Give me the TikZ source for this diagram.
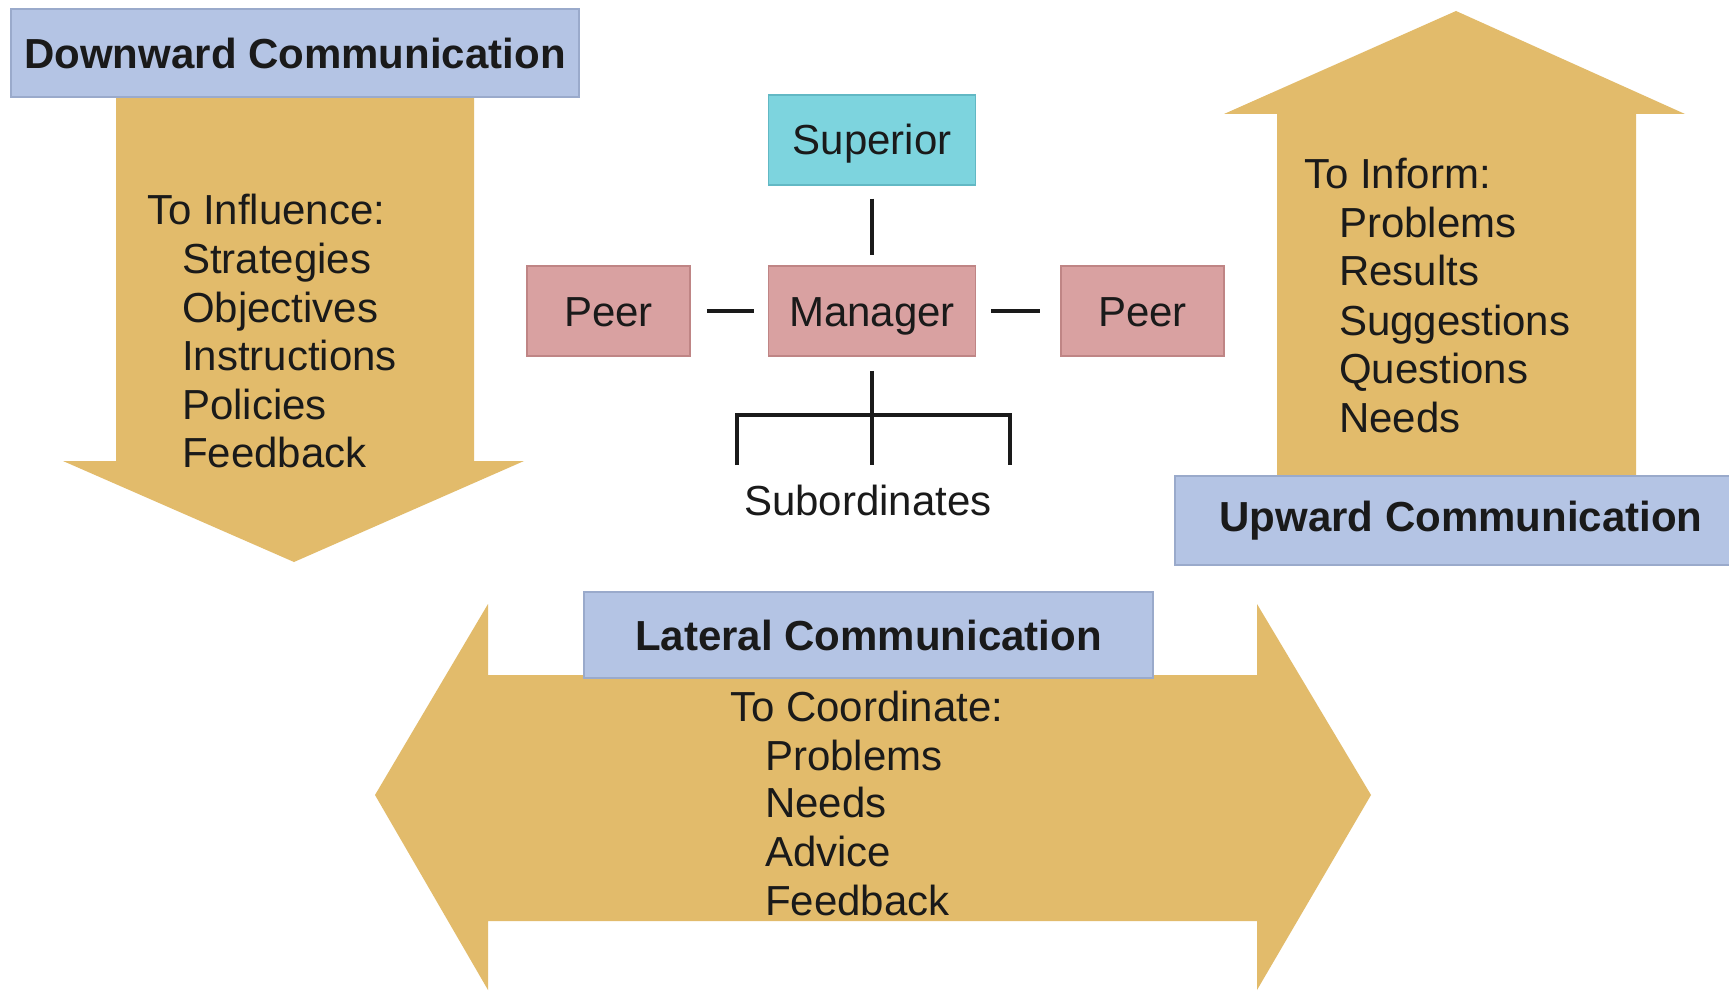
\documentclass[tikz,border=0pt]{standalone}
\usepackage{fontspec}
\setmainfont{Liberation Sans}
\definecolor{arrowgold}{HTML}{E2BB6B}
\definecolor{titleblue}{HTML}{B4C4E4}
\definecolor{titleedge}{HTML}{9AAACB}
\definecolor{peerpink}{HTML}{D9A1A1}
\definecolor{peeredge}{HTML}{BF8585}
\definecolor{supcyan}{HTML}{7DD4DE}
\definecolor{supedge}{HTML}{62B8C4}
\definecolor{ink}{HTML}{1A1A1A}
\begin{document}
\begin{tikzpicture}[x=1pt,y=-1pt,
  every node/.style={text=ink, font=\fontsize{42pt}{48pt}\selectfont},
  titlebox/.style={fill=titleblue, draw=titleedge, line width=1.5pt,
    font=\fontsize{42pt}{48pt}\selectfont\bfseries},
  rolebox/.style={fill=peerpink, draw=peeredge, line width=1.5pt,
    minimum height=90pt, inner sep=0pt, text height=30pt, text depth=0pt},
  listline/.style={anchor=base west, inner sep=0pt},
  conn/.style={draw=ink, line width=4.5pt}]
\useasboundingbox (0,0) rectangle (1729,992);
\fill[white] (0,0) rectangle (1729,992);

% gold arrows
\fill[arrowgold] (116,97) -- (474,97) -- (474,461) -- (524,461) -- (294,562)
  -- (63,461) -- (116,461) -- cycle;
\fill[arrowgold] (1277,476) -- (1277,114) -- (1224,114) -- (1456,11)
  -- (1685,114) -- (1636,114) -- (1636,476) -- cycle;
\fill[arrowgold] (375,795) -- (488,604) -- (488,675) -- (1257,675) -- (1257,604)
  -- (1371,795) -- (1257,990) -- (1257,921) -- (488,921) -- (488,990) -- cycle;

% title boxes
\node[titlebox, minimum width=568pt, minimum height=88pt] (down) at (295,53)
  {Downward Communication};
\node[titlebox, minimum width=556pt, minimum height=89pt] (up) at (1453,520.5)
  {\hspace{16pt}Upward Communication};
\node[titlebox, minimum width=569pt, minimum height=86pt] (lat) at (868.5,635)
  {Lateral Communication};

% downward list
\node[listline] (d0) at (147,225) {To Influence:};
\node[listline] (d1) at (182,273) {Strategies};
\node[listline] (d2) at (182,322) {Objectives};
\node[listline] (d3) at (182,370) {Instructions};
\node[listline] (d4) at (182,419) {Policies};
\node[listline] (d5) at (182,467) {Feedback};

% upward list
\node[listline] (u0) at (1304,189) {To Inform:};
\node[listline] (u1) at (1339,238) {Problems};
\node[listline] (u2) at (1339,286) {Results};
\node[listline] (u3) at (1339,335) {Suggestions};
\node[listline] (u4) at (1339,383) {Questions};
\node[listline] (u5) at (1339,432) {Needs};

% lateral list
\node[listline] (l0) at (730,721) {To Coordinate:};
\node[listline] (l1) at (765,770) {Problems};
\node[listline] (l2) at (765,817) {Needs};
\node[listline] (l3) at (765,866) {Advice};
\node[listline] (l4) at (765,915) {Feedback};

% organisation chart
\node[rolebox, fill=supcyan, draw=supedge, minimum width=207pt] (sup) at (872,140) {Superior};
\node[rolebox, minimum width=207pt] (mgr) at (872,311) {Manager};
\node[rolebox, minimum width=163pt] (peerl) at (608.5,311) {Peer};
\node[rolebox, minimum width=163pt] (peerr) at (1142.5,311) {Peer};
\node (subs) at (868,500) {Subordinates};

\draw[conn, shorten <=13pt, shorten >=10pt] (sup.south) -- (mgr.north);
\draw[conn, shorten <=16pt, shorten >=14pt] (peerl.east) -- (mgr.west);
\draw[conn, shorten <=15pt, shorten >=20pt] (mgr.east) -- (peerr.west);

\coordinate (barL) at (737,415);
\coordinate (barR) at (1010,415);
\coordinate (legL) at (737,465);
\coordinate (legR) at (1010,465);
\draw[conn] ([yshift=-14pt]mgr.south) -- (mgr.south |- legL);
\draw[conn] (legL) -- (barL) -- (barR) -- (legR);
\end{tikzpicture}
\end{document}
